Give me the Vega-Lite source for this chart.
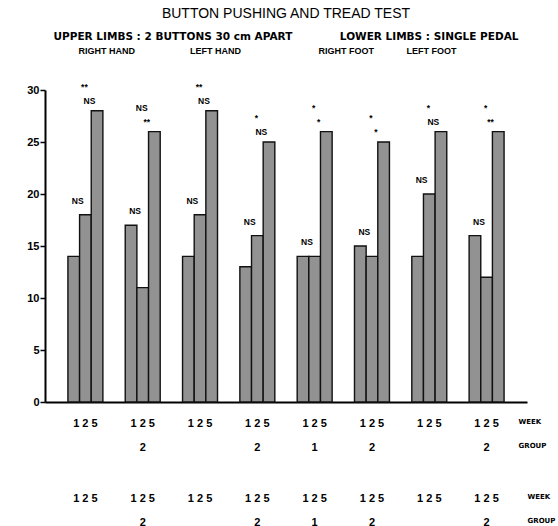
{
  "$schema": "https://vega.github.io/schema/vega-lite/v6.json",
  "width": 482,
  "height": 312,
  "autosize": {"type": "none"},
  "padding": {"left": 45, "top": 90, "right": 31, "bottom": 124},
  "background": "white",
  "config": {"view": {"stroke": null}, "axis": {"grid": false}},
  "title": {
    "text": "BUTTON PUSHING AND TREAD TEST",
    "subtitle": "\u00a0\u00a0UPPER LIMBS : 2 BUTTONS 30 cm APART\u00a0\u00a0\u00a0\u00a0\u00a0\u00a0\u00a0\u00a0\u00a0\u00a0\u00a0\u00a0\u00a0LOWER LIMBS : SINGLE PEDAL",
    "anchor": "middle",
    "font": "Liberation Sans",
    "fontSize": 14,
    "fontWeight": "normal",
    "color": "black",
    "subtitleFont": "DejaVu Sans",
    "subtitleFontWeight": "bold",
    "subtitleFontSize": 10.5,
    "subtitleColor": "black",
    "subtitlePadding": 11,
    "offset": 4
  },
  "datasets": {
    "bars": [
      {"slot": 1, "week": "1", "value": 14}, {"slot": 1, "week": "2", "value": 18}, {"slot": 1, "week": "5", "value": 28},
      {"slot": 2, "week": "1", "value": 17}, {"slot": 2, "week": "2", "value": 11}, {"slot": 2, "week": "5", "value": 26},
      {"slot": 3, "week": "1", "value": 14}, {"slot": 3, "week": "2", "value": 18}, {"slot": 3, "week": "5", "value": 28},
      {"slot": 4, "week": "1", "value": 13}, {"slot": 4, "week": "2", "value": 16}, {"slot": 4, "week": "5", "value": 25},
      {"slot": 5, "week": "1", "value": 14}, {"slot": 5, "week": "2", "value": 14}, {"slot": 5, "week": "5", "value": 26},
      {"slot": 6, "week": "1", "value": 15}, {"slot": 6, "week": "2", "value": 14}, {"slot": 6, "week": "5", "value": 25},
      {"slot": 7, "week": "1", "value": 14}, {"slot": 7, "week": "2", "value": 20}, {"slot": 7, "week": "5", "value": 26},
      {"slot": 8, "week": "1", "value": 16}, {"slot": 8, "week": "2", "value": 12}, {"slot": 8, "week": "5", "value": 26}
    ],
    "sig": [
      {"slot": 1, "cmp": "12", "sig": "NS", "level": 18}, {"slot": 1, "cmp": "23", "sig": "NS", "level": 28}, {"slot": 1, "cmp": "13", "sig": "**", "level": 28},
      {"slot": 2, "cmp": "12", "sig": "NS", "level": 17}, {"slot": 2, "cmp": "23", "sig": "**", "level": 26}, {"slot": 2, "cmp": "13", "sig": "NS", "level": 26},
      {"slot": 3, "cmp": "12", "sig": "NS", "level": 18}, {"slot": 3, "cmp": "23", "sig": "NS", "level": 28}, {"slot": 3, "cmp": "13", "sig": "**", "level": 28},
      {"slot": 4, "cmp": "12", "sig": "NS", "level": 16}, {"slot": 4, "cmp": "23", "sig": "NS", "level": 25}, {"slot": 4, "cmp": "13", "sig": "*", "level": 25},
      {"slot": 5, "cmp": "12", "sig": "NS", "level": 14}, {"slot": 5, "cmp": "23", "sig": "*", "level": 26}, {"slot": 5, "cmp": "13", "sig": "*", "level": 26},
      {"slot": 6, "cmp": "12", "sig": "NS", "level": 15}, {"slot": 6, "cmp": "23", "sig": "*", "level": 25}, {"slot": 6, "cmp": "13", "sig": "*", "level": 25},
      {"slot": 7, "cmp": "12", "sig": "NS", "level": 20}, {"slot": 7, "cmp": "23", "sig": "NS", "level": 26}, {"slot": 7, "cmp": "13", "sig": "*", "level": 26},
      {"slot": 8, "cmp": "12", "sig": "NS", "level": 16}, {"slot": 8, "cmp": "23", "sig": "**", "level": 26}, {"slot": 8, "cmp": "13", "sig": "*", "level": 26}
    ]
  },
  "layer": [
    {
      "layer": [
        {
          "data": {"name": "bars"},
          "mark": {"type": "bar", "fill": "#929292", "stroke": "#111111", "strokeWidth": 1.4},
          "encoding": {
            "x": {
              "field": "slot", "type": "ordinal",
              "scale": {"domain": [1, 2, 3, 4, 5, 6, 7, 8], "paddingInner": 0.39, "paddingOuter": 0.4},
              "axis": {
                "orient": "bottom",
                "domainColor": "black", "domainWidth": 2, "ticks": false, "labelAngle": 0,
                "labelPadding": 15, "labelLineHeight": 24, "labelOverlap": false,
                "labelFont": "Liberation Sans", "labelFontWeight": "bold", "labelFontSize": 11, "labelColor": "black",
                "labelExpr": "['1 2 5', ['','2','','2','1','2','','2'][datum.value-1]]",
                "title": ["WEEK", "GROUP"], "titleX": 473, "titleY": 15, "titleAlign": "left", "titleBaseline": "top",
                "titleFont": "DejaVu Sans", "titleFontWeight": "bold", "titleFontSize": 7, "titleLineHeight": 24, "titleColor": "black"
              }
            },
            "xOffset": {"field": "week", "type": "nominal", "scale": {"domain": ["1", "2", "5"], "paddingInner": 0, "paddingOuter": 0}},
            "y": {
              "field": "value", "type": "quantitative",
              "scale": {"domain": [0, 30], "nice": false},
              "axis": {
                "values": [0, 5, 10, 15, 20, 25, 30],
                "title": "RIGHT HAND\u00a0\u00a0\u00a0\u00a0\u00a0\u00a0\u00a0\u00a0\u00a0\u00a0\u00a0\u00a0\u00a0\u00a0\u00a0\u00a0\u00a0\u00a0\u00a0\u00a0\u00a0\u00a0LEFT HAND\u00a0\u00a0\u00a0\u00a0\u00a0\u00a0\u00a0\u00a0\u00a0\u00a0\u00a0\u00a0\u00a0\u00a0\u00a0\u00a0\u00a0\u00a0\u00a0\u00a0\u00a0\u00a0\u00a0\u00a0\u00a0\u00a0\u00a0\u00a0\u00a0\u00a0\u00a0RIGHT FOOT\u00a0\u00a0\u00a0\u00a0\u00a0\u00a0\u00a0\u00a0\u00a0\u00a0\u00a0\u00a0\u00a0LEFT FOOT",
                "titleAngle": 0, "titleX": 33, "titleY": -37, "titleAlign": "left", "titleBaseline": "alphabetic",
                "titleFont": "Liberation Sans", "titleFontWeight": "bold", "titleFontSize": 9, "titleColor": "black",
                "domainColor": "black", "domainWidth": 2, "tickColor": "black", "tickSize": 5, "tickWidth": 1.5,
                "labelFont": "Liberation Sans", "labelFontWeight": "bold", "labelFontSize": 11, "labelColor": "black", "labelPadding": 1
              }
            }
          }
        },
        {
          "data": {"name": "sig"},
          "transform": [{"filter": "datum.cmp === '12'"}],
          "mark": {"type": "text", "baseline": "bottom", "dx": 4, "dy": -9, "font": "Liberation Sans", "fontWeight": "bold", "fontSize": 8.5, "color": "black"},
          "encoding": {
            "x": {"field": "slot", "type": "ordinal"},
            "xOffset": {"datum": "1", "type": "nominal"},
            "y": {"field": "level", "type": "quantitative"},
            "text": {"field": "sig"}
          }
        },
        {
          "data": {"name": "sig"},
          "transform": [{"filter": "datum.cmp === '23'"}],
          "mark": {"type": "text", "baseline": "bottom", "dx": 4, "dy": -5, "font": "Liberation Sans", "fontWeight": "bold", "fontSize": 8.5, "color": "black"},
          "encoding": {
            "x": {"field": "slot", "type": "ordinal"},
            "xOffset": {"datum": "2", "type": "nominal"},
            "y": {"field": "level", "type": "quantitative"},
            "text": {"field": "sig"}
          }
        },
        {
          "data": {"name": "sig"},
          "transform": [{"filter": "datum.cmp === '13'"}],
          "mark": {"type": "text", "baseline": "bottom", "dx": -1, "dy": -19, "font": "Liberation Sans", "fontWeight": "bold", "fontSize": 8.5, "color": "black"},
          "encoding": {
            "x": {"field": "slot", "type": "ordinal"},
            "xOffset": {"datum": "2", "type": "nominal"},
            "y": {"field": "level", "type": "quantitative"},
            "text": {"field": "sig"}
          }
        }
      ]
    },
    {
      "data": {"name": "bars"},
      "mark": {"type": "point", "opacity": 0},
      "encoding": {
        "x": {
          "field": "slot", "type": "ordinal",
          "scale": {"type": "band", "domain": [1, 2, 3, 4, 5, 6, 7, 8], "paddingInner": 0.39, "paddingOuter": 0.4},
          "axis": {
            "orient": "bottom",
            "offset": 75, "domain": false, "ticks": false, "labelAngle": 0, "labelDx": 10,
            "labelPadding": 15, "labelLineHeight": 24, "labelOverlap": false,
            "labelFont": "Liberation Sans", "labelFontWeight": "bold", "labelFontSize": 11, "labelColor": "black",
            "labelExpr": "['1 2 5', ['','2','','2','1','2','','2'][datum.value-1]]",
            "title": ["WEEK", "GROUP"], "titleX": 482, "titleY": 15, "titleAlign": "left", "titleBaseline": "top",
            "titleFont": "DejaVu Sans", "titleFontWeight": "bold", "titleFontSize": 7, "titleLineHeight": 24, "titleColor": "black"
          }
        }
      }
    }
  ],
  "resolve": {"scale": {"x": "independent"}, "axis": {"x": "independent"}}
}
